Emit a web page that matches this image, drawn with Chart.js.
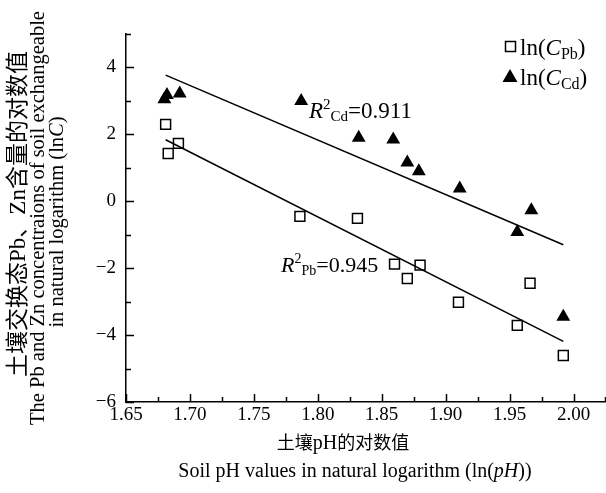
<!DOCTYPE html>
<html>
<head>
<meta charset="utf-8">
<script src="https://cdn.jsdelivr.net/npm/chart.js@4.4.0/dist/chart.umd.min.js"></script>
<style>
  html, body { margin: 0; padding: 0; background: #fff; }
  #wrap { width: 606px; height: 493px; position: relative; }
</style>
</head>
<body>
<div id="wrap"><canvas id="c" width="606" height="493"></canvas></div>
<script>
// 数据：ln(pH) 与 ln(C)
const pbX = [1.681, 1.683, 1.691, 1.786, 1.831, 1.860, 1.870, 1.880, 1.910, 1.956, 1.966, 1.992]
const pbY = [2.30, 1.43, 1.73, -0.45, -0.51, -1.88, -2.31, -1.91, -3.02, -3.71, -2.45, -4.61]
const cdX = [1.680, 1.682, 1.692, 1.787, 1.832, 1.859, 1.870, 1.879, 1.911, 1.956, 1.967, 1.992]
const cdY = [3.05, 3.18, 3.22, 3.00, 1.90, 1.85, 1.16, 0.90, 0.38, -0.92, -0.27, -3.45]
// 拟合直线端点
const pbFitX = [1.681, 1.992]
const pbFitY = [1.84, -4.19]
const cdFitX = [1.681, 1.992]
const cdFitY = [3.77, -1.30]
const xTicks = [1.65, 1.70, 1.75, 1.80, 1.85, 1.90, 1.95, 2.00]
const yTicks = [-6, -4, -2, 0, 2, 4]

const SERIF = '"Liberation Serif", "Times New Roman", serif'
const CJK = '"Noto Sans CJK SC", sans-serif'

const toPts = (xs, ys) => xs.map((x, i) => ({ x: x, y: ys[i] }))

// 画文字片段（支持上下标、斜体）
function drawRuns(ctx, runs, x, y) {
    let cx = x
    runs.forEach(r => {
        const size = r.size || 20
        ctx.font = (r.italic ? 'italic ' : '') + size + 'px ' + (r.cjk ? CJK : SERIF)
        ctx.fillText(r.t, cx, y + (r.dy || 0))
        cx += ctx.measureText(r.t).width + (r.gap || 0)
    })
    return cx - x
}
function runsWidth(ctx, runs) {
    let w = 0
    runs.forEach(r => {
        const size = r.size || 20
        ctx.font = (r.italic ? 'italic ' : '') + size + 'px ' + (r.cjk ? CJK : SERIF)
        w += ctx.measureText(r.t).width + (r.gap || 0)
    })
    return w
}

const decor = {
    id: 'decor',
    afterDraw(chart) {
        const ctx = chart.ctx
        const xs = chart.scales.x, ys = chart.scales.y
        const area = chart.chartArea
        ctx.save()
        ctx.strokeStyle = '#000'
        ctx.lineWidth = 1.5
        // 向内的刻度
        ctx.beginPath()
        for (let v = 1.65; v <= 2.0251; v += 0.025) {
            const px = Math.round(xs.getPixelForValue(v)) + 0.5
            const major = Math.abs((v - 1.65) / 0.05 - Math.round((v - 1.65) / 0.05)) < 0.01
            ctx.moveTo(px, area.bottom)
            ctx.lineTo(px, area.bottom - (major ? 8 : 5))
        }
        for (let v = -6; v <= 5; v += 1) {
            const py = Math.round(ys.getPixelForValue(v)) + 0.5
            const major = v % 2 === 0
            ctx.moveTo(area.left, py)
            ctx.lineTo(area.left + (major ? 8 : 5), py)
        }
        ctx.stroke()

        ctx.fillStyle = '#000'
        ctx.textBaseline = 'alphabetic'
        ctx.textAlign = 'left'

        // 图例
        ctx.lineWidth = 1.5
        ctx.strokeRect(505.5, 41.5, 10, 10)
        drawRuns(ctx, [{ t: 'ln(', size: 23 }, { t: 'C', italic: true, size: 23 }, { t: 'Pb', size: 16, dy: 4 }, { t: ')', size: 23 }], 520, 55)
        ctx.beginPath()
        ctx.moveTo(510, 69)
        ctx.lineTo(517.5, 82)
        ctx.lineTo(502.5, 82)
        ctx.closePath()
        ctx.fill()
        drawRuns(ctx, [{ t: 'ln(', size: 23 }, { t: 'C', italic: true, size: 23 }, { t: 'Cd', size: 16, dy: 4 }, { t: ')', size: 23 }], 520, 85)

        // R² 标注
        drawRuns(ctx, [{ t: 'R', italic: true, size: 23 }, { t: '2', size: 15, dy: -9 }, { t: 'Cd', size: 15, dy: 3 }, { t: '=0.911', size: 23 }], 309, 118)
        drawRuns(ctx, [{ t: 'R', italic: true, size: 22 }, { t: '2', size: 14, dy: -9 }, { t: 'Pb', size: 14, dy: 3 }, { t: '=0.945', size: 22 }], 281, 272)

        // x 轴标题
        const xt1 = [{ t: '土壤', cjk: true, size: 18 }, { t: 'pH', size: 20 }, { t: '的对数值', cjk: true, size: 18 }]
        drawRuns(ctx, xt1, 343 - runsWidth(ctx, xt1) / 2, 449)
        const xt2 = [{ t: 'Soil pH values in natural logarithm (ln(' }, { t: 'pH', italic: true }, { t: '))' }]
        drawRuns(ctx, xt2, 355 - runsWidth(ctx, xt2) / 2, 477)

        // y 轴标题（旋转）
        ctx.rotate(-Math.PI / 2)
        const yt1 = [{ t: '土壤交换态', cjk: true, size: 23 }, { t: 'Pb', size: 23 }, { t: '、', cjk: true, size: 23 }, { t: 'Zn', size: 23 }, { t: '含量的对数值', cjk: true, size: 23 }]
        drawRuns(ctx, yt1, -214 - runsWidth(ctx, yt1) / 2, 25)
        const yt2 = [{ t: 'The Pb and Zn concentraions of soil exchangeable', size: 20.5 }]
        drawRuns(ctx, yt2, -218 - runsWidth(ctx, yt2) / 2, 44)
        const yt3 = [{ t: 'in natural logarithm (ln', size: 20.5 }, { t: 'C', italic: true, size: 20.5 }, { t: ')', size: 20.5 }]
        drawRuns(ctx, yt3, -222 - runsWidth(ctx, yt3) / 2, 63)
        ctx.restore()
    }
}

new Chart(document.getElementById('c'), {
    type: 'scatter',
    data: {
        datasets: [
            {
                label: 'Pb',
                data: toPts(pbX, pbY),
                pointStyle: 'rect',
                pointRadius: 7,
                pointBorderWidth: 1.5,
                borderColor: '#000',
                backgroundColor: 'rgba(0,0,0,0)'
            },
            {
                label: 'Cd',
                data: toPts(cdX, cdY),
                pointStyle: 'triangle',
                pointRadius: 8,
                pointBorderWidth: 0,
                borderColor: '#000',
                backgroundColor: '#000'
            },
            {
                label: 'fitPb',
                type: 'line',
                data: toPts(pbFitX, pbFitY),
                showLine: true,
                borderColor: '#000',
                borderWidth: 1.5,
                pointRadius: 0
            },
            {
                label: 'fitCd',
                type: 'line',
                data: toPts(cdFitX, cdFitY),
                showLine: true,
                borderColor: '#000',
                borderWidth: 1.5,
                pointRadius: 0
            }
        ]
    },
    options: {
        responsive: false,
        animation: false,
        layout: { autoPadding: false, padding: { top: 34, right: 0.5, left: 0, bottom: 0 } },
        plugins: { legend: { display: false }, tooltip: { enabled: false } },
        scales: {
            x: {
                type: 'linear',
                min: 1.65,
                max: 2.025,
                afterBuildTicks: s => { s.ticks = xTicks.map(v => ({ value: v })) },
                afterFit: s => { s.height = 91; s.paddingLeft = 0; s.paddingRight = 0 },
                grid: { display: false, drawTicks: false, tickLength: 0 },
                border: { display: true, color: '#000', width: 1.5 },
                ticks: {
                    color: '#000',
                    padding: 2,
                    font: { family: SERIF, size: 19 },
                    callback: v => v.toFixed(2)
                }
            },
            y: {
                type: 'linear',
                min: -6,
                max: 5,
                afterBuildTicks: s => { s.ticks = yTicks.map(v => ({ value: v })) },
                afterFit: s => { s.width = 126; s.paddingTop = 0; s.paddingBottom = 0 },
                grid: { display: false, drawTicks: false, tickLength: 0 },
                border: { display: true, color: '#000', width: 1.5 },
                ticks: {
                    color: '#000',
                    padding: 10,
                    font: { family: SERIF, size: 19 },
                    callback: v => (v < 0 ? '\u2212' + Math.abs(v) : '' + v)
                }
            }
        }
    },
    plugins: [decor]
})
</script>
</body>
</html>
